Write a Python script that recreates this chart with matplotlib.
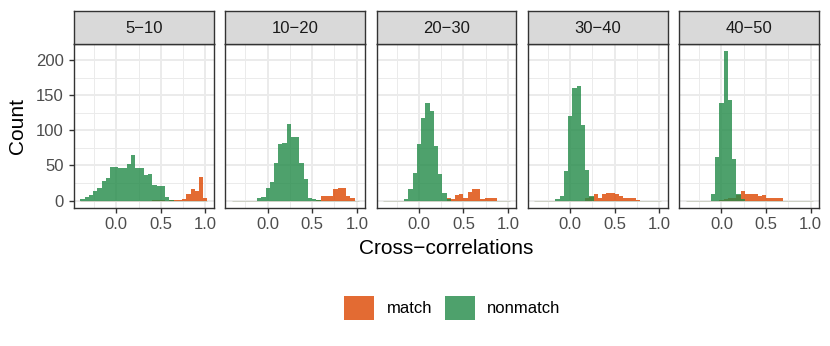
import numpy as np
import matplotlib
matplotlib.use("Agg")
import matplotlib.pyplot as plt
from matplotlib.patches import Patch

plt.rcParams['font.family'] = ['Liberation Sans', 'DejaVu Sans']

# ---- data ----
panels = ["5\u221210", "10\u221220", "20\u221230", "30\u221240", "40\u221250"]
bin_start = -0.403
bin_width = 0.0475
n_bins = 30

nonmatch = [
    # 5-10
    [2, 5, 8, 14, 18, 28, 32, 48, 48, 46, 46, 52, 65, 46, 46, 37, 38, 22, 20, 20, 5, 1, 0, 0, 0, 0, 0, 0, 0, 0],
    # 10-20
    [0, 0, 0, 0, 0, 0, 3, 5, 18, 27, 53, 81, 82, 109, 90, 90, 53, 30, 4, 2, 1, 0, 0, 0, 0, 0, 0, 0, 0, 0],
    # 20-30
    [0, 0, 0, 0, 0, 2, 17, 39, 81, 117, 139, 128, 77, 38, 11, 2, 0, 0, 0, 0, 0, 0, 0, 0, 0, 0, 0, 0, 0, 0],
    # 30-40
    [0, 0, 0, 0, 0, 2, 7, 42, 120, 160, 163, 107, 44, 6, 0, 0, 0, 0, 0, 0, 0, 0, 0, 0, 0, 0, 0, 0, 0, 0],
    # 40-50
    [0, 0, 0, 0, 0, 0, 10, 62, 139, 213, 143, 59, 9, 2, 0, 0, 0, 0, 0, 0, 0, 0, 0, 0, 0, 0, 0, 0, 0, 0],
]
match = [
    # 5-10
    [0, 0, 0, 0, 0, 0, 0, 0, 0, 0, 0, 0, 0, 0, 0, 0, 0, 1, 1, 1, 0, 1, 1, 1, 2, 9, 17, 13, 33, 3],
    # 10-20
    [0, 0, 0, 0, 0, 0, 0, 0, 0, 0, 0, 0, 0, 0, 0, 0, 0, 0, 0, 0, 1, 6, 7, 7, 17, 18, 18, 7, 3, 0],
    # 20-30
    [0, 0, 0, 0, 0, 0, 0, 0, 0, 0, 0, 0, 0, 0, 0, 3, 2, 8, 9, 4, 12, 17, 17, 2, 3, 3, 4, 0, 0, 0],
    # 30-40
    [0, 0, 0, 0, 0, 0, 0, 0, 0, 0, 0, 0, 4, 5, 10, 3, 9, 11, 11, 9, 6, 4, 4, 3, 1, 0, 0, 0, 0, 0],
    # 40-50
    [0, 0, 0, 0, 0, 0, 0, 0, 1, 2, 3, 4, 8, 14, 10, 9, 10, 6, 8, 3, 3, 3, 3, 0, 0, 0, 0, 0, 0, 0],
]
groups = ["match", "nonmatch"]
colors = {"match": "#DC4600", "nonmatch": "#228A47"}
alpha = 0.8

x_ticks = [0.0, 0.5, 1.0]
x_minor = [-0.25, 0.25, 0.75]
y_ticks = [0, 50, 100, 150, 200]
y_minor = [25, 75, 125, 175]

# ---- figure ----
W, H = 830, 346
fig = plt.figure(figsize=(W / 100, H / 100), dpi=100)

edges = bin_start + bin_width * np.arange(n_bins + 1)
centers = (edges[:-1] + edges[1:]) / 2
x_lo, x_hi = edges[0], edges[-1]
xr = x_hi - x_lo
xlim = (x_lo - 0.05 * xr, x_hi + 0.05 * xr)
ymax = max(max(max(a) for a in nonmatch), max(max(a) for a in match))
ylim = (-0.05 * ymax, 1.05 * ymax)

grey20 = "#333333"
grey30 = "#4D4D4D"
grid_c = "#EBEBEB"

left0 = 74.0
pw = 139.8
step = 151.3
top_px = 43.5
bot_px = 208.0
strip_top = 11.0

def fx(px):
    return px / W

def fy(py):
    return 1 - py / H

for i, name in enumerate(panels):
    l = left0 + i * step
    ax = fig.add_axes([fx(l), fy(bot_px), pw / W, (bot_px - top_px) / H])
    ax.set_xlim(*xlim)
    ax.set_ylim(*ylim)
    ax.set_axisbelow(True)
    for v in x_minor:
        ax.axvline(v, color=grid_c, lw=0.7, zorder=0)
    for v in y_minor:
        ax.axhline(v, color=grid_c, lw=0.7, zorder=0)
    for v in x_ticks:
        ax.axvline(v, color=grid_c, lw=1.4, zorder=0)
    for v in y_ticks:
        ax.axhline(v, color=grid_c, lw=1.4, zorder=0)

    # faint trace of the zero-height bins along the baseline
    ax.hlines(0, x_lo, x_hi, color="#C9CDBE", lw=0.6, zorder=1)

    ax.bar(centers, match[i], width=bin_width, color=colors["match"],
           alpha=alpha, linewidth=0, zorder=2)
    ax.bar(centers, nonmatch[i], width=bin_width, color=colors["nonmatch"],
           alpha=alpha, linewidth=0, zorder=3)

    ax.set_xticks(x_ticks)
    ax.set_xticklabels(["0.0", "0.5", "1.0"])
    ax.set_yticks(y_ticks)
    if i == 0:
        ax.tick_params(axis='y', length=3.8, width=1.0, color=grey20,
                       labelsize=12, labelcolor=grey30, pad=3.5)
    else:
        ax.tick_params(axis='y', length=0, labelleft=False)
    ax.tick_params(axis='x', length=3.8, width=1.0, color=grey20,
                   labelsize=12, labelcolor=grey30, pad=3.0)
    for s in ax.spines.values():
        s.set_color(grey20)
        s.set_linewidth(1.0)
        s.set_zorder(5)

    sax = fig.add_axes([fx(l), fy(top_px), pw / W, (top_px - strip_top) / H])
    sax.set_facecolor("#D9D9D9")
    sax.set_xticks([])
    sax.set_yticks([])
    for s in sax.spines.values():
        s.set_color(grey20)
        s.set_linewidth(1.0)
    sax.text(0.5, 0.47, name, ha='center', va='center', fontsize=12,
             color="#1A1A1A", transform=sax.transAxes)

fig.text(fx(17), fy((top_px + bot_px) / 2), "Count", rotation=90,
         ha='center', va='center', fontsize=15, color='black')
fig.text(fx(446.3), fy(254.5), "Cross\u2212correlations", ha='center',
         va='baseline', fontsize=15, color='black')

handles = [Patch(facecolor=colors[g], alpha=alpha, edgecolor='none') for g in groups]
fig.legend(handles, groups, loc='center', bbox_to_anchor=(fx(452.2), fy(308)),
           ncol=2, frameon=False, fontsize=12, handlelength=1.8,
           handleheight=1.8, handletextpad=0.74, columnspacing=0.76,
           borderaxespad=0, borderpad=0)

fig.savefig("out.png", dpi=100)
